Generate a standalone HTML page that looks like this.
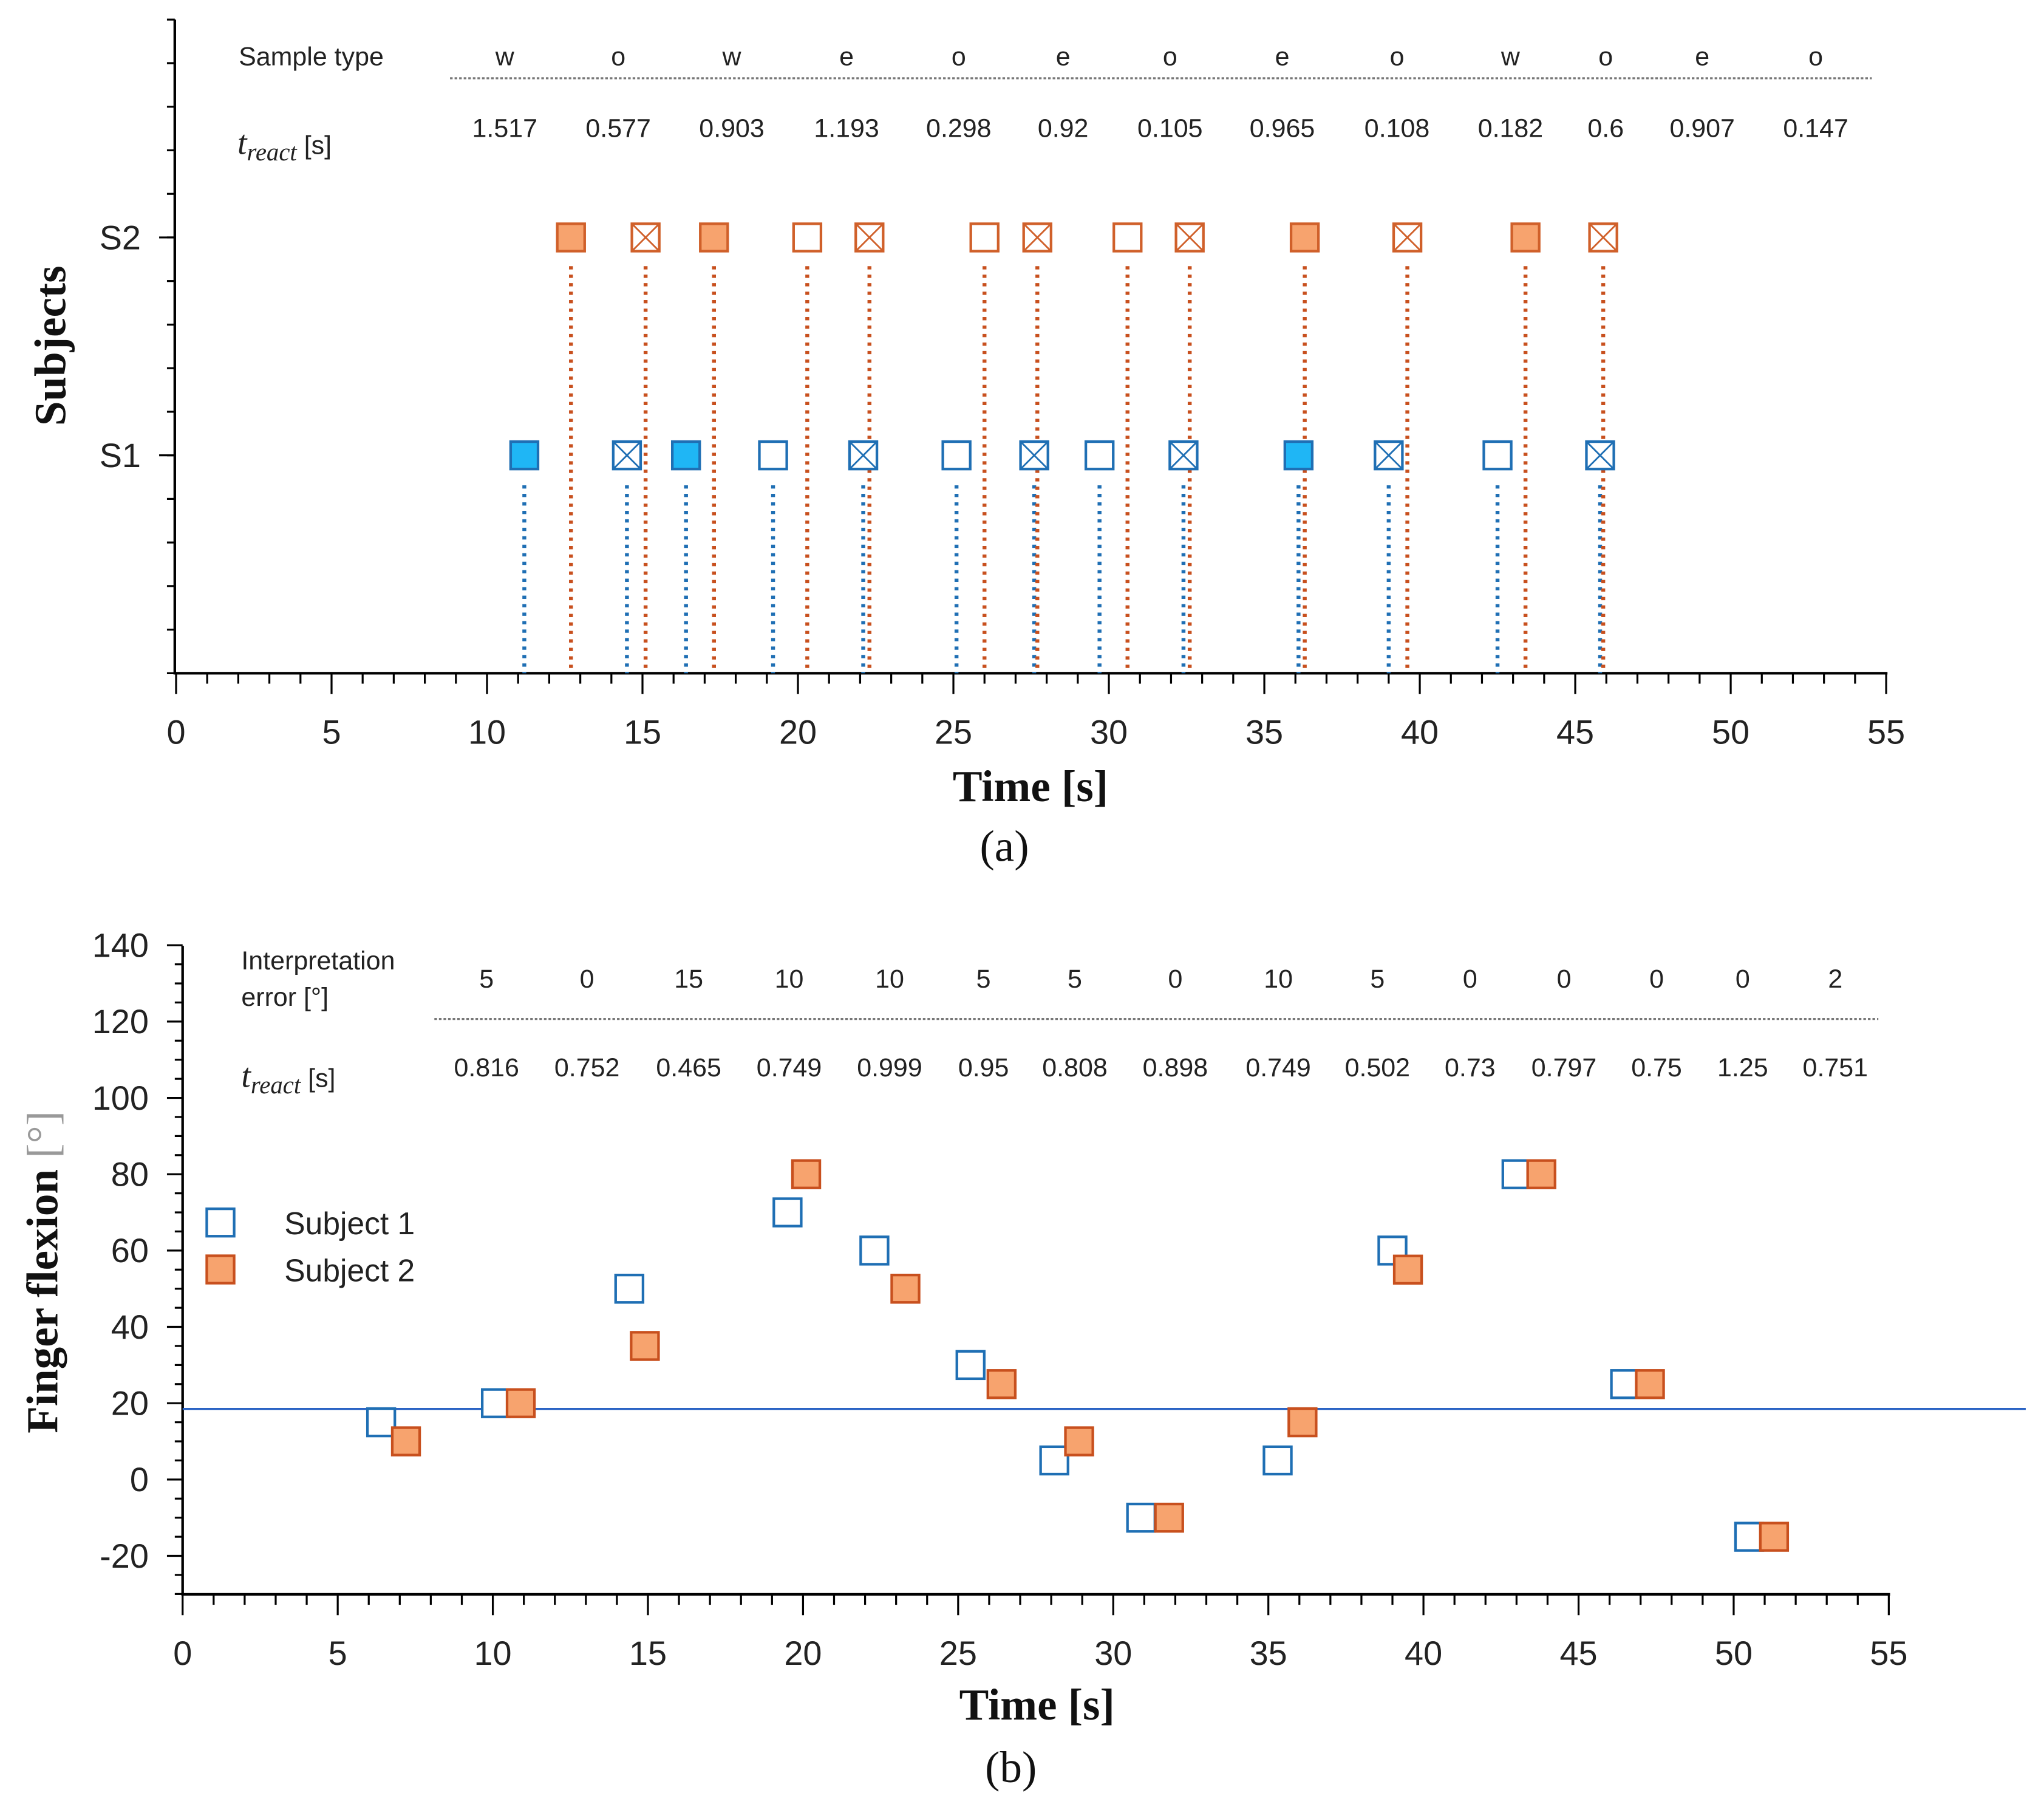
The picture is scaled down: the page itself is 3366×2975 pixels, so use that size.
<!DOCTYPE html>
<html><head><meta charset="utf-8"><style>
html,body{margin:0;padding:0;background:#fff;}
svg{display:block;}
.tk{font-family:"Liberation Sans",sans-serif;font-size:26px;fill:#222;}
.tb{font-family:"Liberation Sans",sans-serif;font-size:20px;fill:#222;}
.ti{font-family:"Liberation Serif",serif;font-size:34px;fill:#111;font-weight:bold;}
</style></head><body>
<svg id="fig" width="3366" height="2975" viewBox="0 0 1567 1385" preserveAspectRatio="none" xmlns="http://www.w3.org/2000/svg">
<rect width="1567" height="1385" fill="#fff"/>
<g id="a"></g>
<g id="b"></g>
</svg>
<script>
// Panel (a)
const sampleTypes=["w","o","w","e","o","e","o","e","o","w","o","e","o"];
const treactA=["1.517","0.577","0.903","1.193","0.298","0.92","0.105","0.965","0.108","0.182","0.6","0.907","0.147"];
const s1Times=[11.2,14.5,16.4,19.2,22.1,25.1,27.6,29.7,32.4,36.1,39.0,42.5,45.8];
const s1Marks=["f","x","f","o","x","o","x","o","x","f","x","o","x"];
const s2Times=[12.7,15.1,17.3,20.3,22.3,26.0,27.7,30.6,32.6,36.3,39.6,43.4,45.9];
const s2Marks=["f","x","f","o","x","o","x","o","x","f","x","f","x"];
const xTicksA=[0,5,10,15,20,25,30,35,40,45,50,55];
// Panel (b)
const interpErr=["5","0","15","10","10","5","5","0","10","5","0","0","0","0","2"];
const treactB=["0.816","0.752","0.465","0.749","0.999","0.95","0.808","0.898","0.749","0.502","0.73","0.797","0.75","1.25","0.751"];
const sub1X=[6.4,10.1,14.4,19.5,22.3,25.4,28.1,30.9,35.3,39.0,43.0,46.5,50.5];
const sub1Y=[15,20,50,70,60,30,5,-10,5,60,80,25,-15];
const sub2X=[7.2,10.9,14.9,20.1,23.3,26.4,28.9,31.8,36.1,39.5,43.8,47.3,51.3];
const sub2Y=[10,20,35,80,50,25,10,-10,15,55,80,25,-15];
const yTicksB=[-20,0,20,40,60,80,100,120,140];
const xTicksB=[0,5,10,15,20,25,30,35,40,45,50,55];
const refLine=18.5;

const NS="http://www.w3.org/2000/svg";
function mk(p,tag,at,txt){const e=document.createElementNS(NS,tag);for(const k in at)e.setAttribute(k,at[k]);if(txt!==undefined)e.textContent=txt;p.appendChild(e);return e;}

const A=document.getElementById('a');
const xa=v=>135+v*(1446-135)/55;
const yS={S1:349,S2:182};
const axA=mk(A,'path',{d:'M134 15 V516 H1447',stroke:'#000','stroke-width':2,fill:'none'});


for(let v=0;v<=55;v++){const t=mk(A,'line',{x1:xa(v),x2:xa(v),y1:516,y2:v%5?524:532,stroke:'#000','stroke-width':1.5});}
xTicksA.forEach(v=>{const t=mk(A,'text',{x:xa(v),y:570,'text-anchor':'middle',class:'tk'},v);

});
for(let y=15;y<=516;y+=33.4){mk(A,'line',{x1:128,x2:134,y1:y,y2:y,stroke:'#000','stroke-width':1.5});}
[["S2",182],["S1",349]].forEach(([s,y])=>{mk(A,'line',{x1:122,x2:134,y1:y,y2:y,stroke:'#000','stroke-width':1.5});
const t=mk(A,'text',{x:108,y:y+9,'text-anchor':'end',class:'tk'},s);

});
let t;
t=mk(A,'text',{x:790,y:614,'text-anchor':'middle',class:'ti'},'Time [s]');


t=mk(A,'text',{x:0,y:0,'text-anchor':'middle',class:'ti',transform:'translate(50,265) rotate(-90)'},'Subjects');


t=mk(A,'text',{x:770,y:660,'text-anchor':'middle',class:'ti',style:'font-weight:normal'},'(a)');


t=mk(A,'text',{x:183,y:50,class:'tb'},'Sample type');


mk(A,'line',{x1:345,x2:1435,y1:60,y2:60,stroke:'#777','stroke-width':1.5,'stroke-dasharray':'2 1.5'});
const tr1=mk(A,'text',{x:182,y:118,class:'tb'});
mk(tr1,'tspan',{'font-family':'Liberation Serif','font-style':'italic','font-size':'26'},'t');
mk(tr1,'tspan',{'font-family':'Liberation Serif','font-style':'italic','font-size':'19',dy:5},'react');
mk(tr1,'tspan',{dy:-5},' [s]');


const colA=[387,474,561,649,735,815,897,983,1071,1158,1231,1305,1392];
sampleTypes.forEach((s,i)=>{t=mk(A,'text',{x:colA[i],y:50,'text-anchor':'middle',class:'tb'},s);


t=mk(A,'text',{x:colA[i],y:105,'text-anchor':'middle',class:'tb'},treactA[i]);

});
function marker(p,cx,cy,type,col,fill,name){
 const g=mk(p,'g',{});
 
 
 const s=21;
 mk(g,'rect',{x:cx-s/2,y:cy-s/2,width:s,height:s,fill:type==='f'?fill:'#fff',stroke:col,'stroke-width':2});
 if(type==='x'){mk(g,'path',{d:`M${cx-s/2} ${cy-s/2}L${cx+s/2} ${cy+s/2}M${cx+s/2} ${cy-s/2}L${cx-s/2} ${cy+s/2}`,stroke:col,'stroke-width':1.3});}
 return g;}
s1Times.forEach((v,i)=>{const l=mk(A,'line',{x1:xa(v),x2:xa(v),y1:372,y2:516,stroke:'#1f6fb4','stroke-width':3,'stroke-dasharray':'2.5 4'});

});
s2Times.forEach((v,i)=>{const l=mk(A,'line',{x1:xa(v),x2:xa(v),y1:204,y2:516,stroke:'#c8501e','stroke-width':3,'stroke-dasharray':'2.5 4'});

});
s1Times.forEach((v,i)=>marker(A,xa(v),yS.S1,s1Marks[i],'#1f6fb4','#1fb6f5','s1-event-marker'));
s2Times.forEach((v,i)=>marker(A,xa(v),yS.S2,s2Marks[i],'#d0602a','#f7a36e','s2-event-marker'));

// Panel b
const B=document.getElementById('b');
const xb=v=>140+v*(1448-140)/55;
const yb=v=>1134-v*58.5/20;
const axB=mk(B,'path',{d:'M140 725 V1222 H1449',stroke:'#000','stroke-width':2,fill:'none'});


for(let v=0;v<=55;v++){mk(B,'line',{x1:xb(v),x2:xb(v),y1:1222,y2:v%5?1230:1238,stroke:'#000','stroke-width':1.5});}
for(let v=-30;v<=140;v+=5){mk(B,'line',{x1:v%20?134:128,x2:140,y1:yb(v),y2:yb(v),stroke:'#000','stroke-width':1.5});}
xTicksB.forEach(v=>{t=mk(B,'text',{x:xb(v),y:1276,'text-anchor':'middle',class:'tk'},v);

});
yTicksB.forEach(v=>{t=mk(B,'text',{x:114,y:yb(v)+9,'text-anchor':'end',class:'tk'},v);

});
t=mk(B,'text',{x:795,y:1318,'text-anchor':'middle',class:'ti'},'Time [s]');


t=mk(B,'text',{x:0,y:0,'text-anchor':'middle',class:'ti',transform:'translate(44,975) rotate(-90)'});
mk(t,'tspan',{},'Finger flexion ');
mk(t,'tspan',{fill:'#999',style:'font-weight:normal'},'[°]');


t=mk(B,'text',{x:775,y:1366,'text-anchor':'middle',class:'ti',style:'font-weight:normal'},'(b)');


t=mk(B,'text',{x:185,y:743,class:'tb'},'Interpretation');


mk(B,'text',{x:185,y:771,class:'tb'},'error [°]');
mk(B,'line',{x1:333,x2:1440,y1:781,y2:781,stroke:'#777','stroke-width':1.5,'stroke-dasharray':'2 1.5'});
const tr2=mk(B,'text',{x:185,y:833,class:'tb'});
mk(tr2,'tspan',{'font-family':'Liberation Serif','font-style':'italic','font-size':'26'},'t');
mk(tr2,'tspan',{'font-family':'Liberation Serif','font-style':'italic','font-size':'19',dy:5},'react');
mk(tr2,'tspan',{dy:-5},' [s]');


const colB=[373,450,528,605,682,754,824,901,980,1056,1127,1199,1270,1336,1407];
interpErr.forEach((s,i)=>{t=mk(B,'text',{x:colB[i],y:757,'text-anchor':'middle',class:'tb'},s);


t=mk(B,'text',{x:colB[i],y:825,'text-anchor':'middle',class:'tb'},treactB[i]);

});
const rl=mk(B,'line',{x1:140,x2:1553,y1:yb(refLine),y2:yb(refLine),stroke:'#2a63c4','stroke-width':1.5});


sub1X.forEach((v,i)=>marker(B,xb(v),yb(sub1Y[i]),'o','#1f6fb4','#fff','subject1-point'));
sub2X.forEach((v,i)=>marker(B,xb(v),yb(sub2Y[i]),'f','#c8501e','#f7a36e','subject2-point'));
const lg=mk(B,'g',{});


marker(lg,169,937,'o','#1f6fb4','#fff','legend-subject1-swatch');
marker(lg,169,973,'f','#c8501e','#f7a36e','legend-subject2-swatch');
t=mk(lg,'text',{x:218,y:946,class:'tk',style:'font-size:24px'},'Subject 1');


t=mk(lg,'text',{x:218,y:982,class:'tk',style:'font-size:24px'},'Subject 2');


</script>
</body></html>
